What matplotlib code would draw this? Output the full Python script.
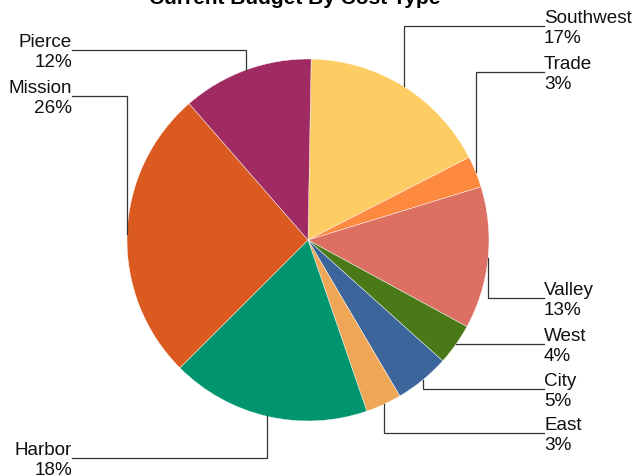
import numpy as np
import matplotlib
matplotlib.use("Agg")
import matplotlib.pyplot as plt

plt.rcParams['font.family'] = ['Liberation Sans', 'DejaVu Sans']

# Datos del gráfico (porcentajes, sentido horario desde arriba)
categorias = ["Southwest", "Trade", "Valley", "West", "City", "East", "Harbor", "Mission", "Pierce"]
valores = [17.2, 2.8, 12.7, 3.7, 4.9, 3.2, 17.8, 26.1, 11.7]
colores = ["#FDCD64", "#FD8A3F", "#DC7062", "#4A7A17", "#3C659B",
           "#EFA656", "#00956F", "#DB5A20", "#A02B62"]

# Posición vertical de cada etiqueta (px desde arriba) y lado
etiqueta_y = [26, 72, 298, 344, 389, 433, 458, 96, 50]
etiqueta_lado = ["der", "der", "der", "der", "der", "der", "izq", "izq", "izq"]

W, H = 636, 476
centro = (308, H - 240)
radio = 181

fig = plt.figure(figsize=(W / 100, H / 100), dpi=100)
ax = fig.add_axes([0, 0, 1, 1])

cunas, _ = ax.pie(valores, colors=colores, startangle=89, counterclock=False,
                  center=centro, radius=radio,
                  wedgeprops=dict(edgecolor="white", linewidth=0.3))

total = sum(valores)
for cuna, nombre, val, ly, lado in zip(cunas, categorias, valores, etiqueta_y, etiqueta_lado):
    ang = np.deg2rad((cuna.theta1 + cuna.theta2) / 2)
    x0 = centro[0] + radio * np.cos(ang)
    y0 = centro[1] + radio * np.sin(ang)
    yl = H - ly
    xl = 544 if lado == "der" else 72
    ax.plot([x0, x0, xl], [y0, yl, yl], color="#333333", linewidth=0.9,
            solid_joinstyle="miter")
    ha = "left" if lado == "der" else "right"
    pct = f"{round(val / total * 100)}%"
    ax.text(xl, yl + 3, nombre, ha=ha, va="baseline", fontsize=13.6, color="#111111")
    ax.text(xl, yl - 17, pct, ha=ha, va="baseline", fontsize=13.6, color="#111111")

ax.text(295, H - 4, "Current Budget By Cost Type", ha="center", va="baseline",
        fontsize=15, fontweight="bold", clip_on=False)

ax.set_xlim(0, W)
ax.set_ylim(0, H)
ax.set_aspect("equal", adjustable="box")
ax.axis("off")

fig.savefig("out.png", dpi=100)
